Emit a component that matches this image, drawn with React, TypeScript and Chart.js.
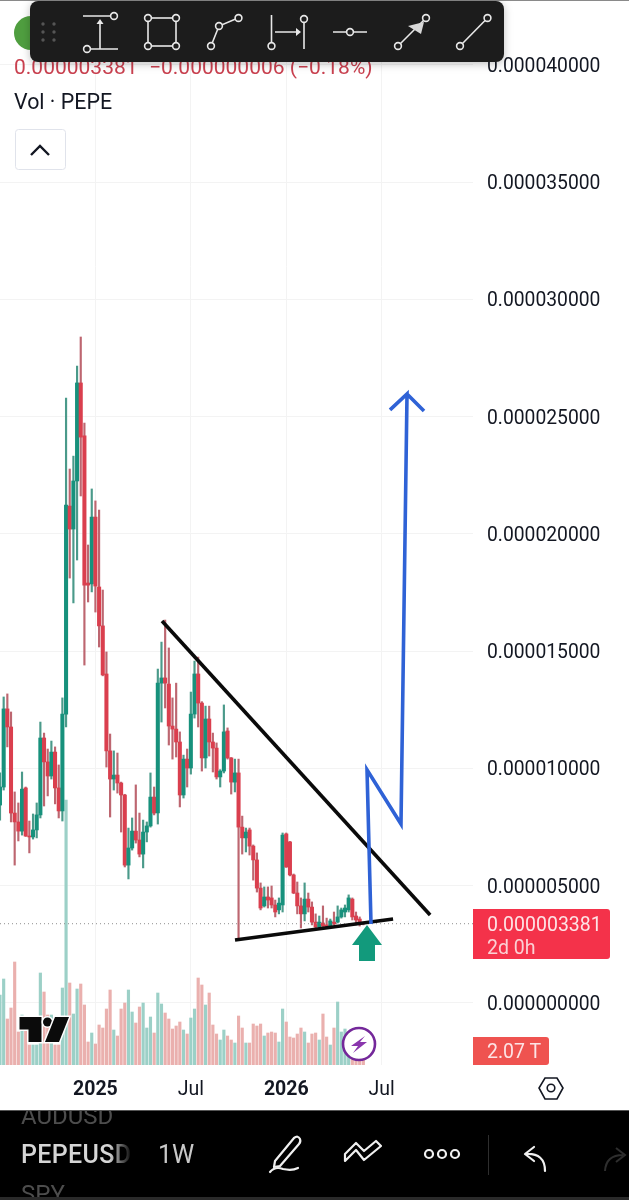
import React, { useEffect, useRef } from "react";
import { Chart, registerables } from "chart.js";

Chart.register(...registerables);

// Prices are in millionths (1e-6) of a USD; weekly candles, volumes in trillions.
const opens = [
  8.44, 9.21, 12.54, 11.77, 8.1, 7.72, 7.33, 9.17, 7.12, 7.08,
  7.38, 8.02, 11.3, 10.28, 9.68, 10.7, 9.17, 8.19, 12.32, 21.19,
  20.21, 22.26, 26.44, 24.18, 17.91, 17.87, 20.72, 17.74, 16.08, 14.03,
  10.75, 9.55, 9.72, 9.38, 8.87, 5.88, 6.61, 7.33, 6.95, 6.35,
  7.29, 7.55, 8.78, 8.1, 13.64, 13.86, 13.6, 11.81, 11.68, 11.13,
  8.87, 10.4, 10.02, 12.32, 14.03, 12.79, 10.45, 12.11, 11.13, 10.87,
  9.64, 9.89, 11.6, 10.45, 9.42, 9.81, 7.5, 7.04, 7.38, 6.69,
  6.1, 4.9, 4.14, 4.52, 4.48, 4.18, 3.97, 4.18, 7.21, 6.87,
  5.46, 4.69, 4.14, 3.8, 4.43, 4.09, 3.45, 3.24, 3.41, 3.33,
  3.28, 3.45, 3.45, 3.67, 3.88, 3.97, 4.43, 3.71, 3.58, 3.387,
];
const highs = [
  9.81, 13.05, 13.18, 12.41, 9.0, 8.53, 9.85, 9.21, 7.76, 8.06,
  8.53, 11.98, 11.51, 10.83, 11.17, 10.92, 10.15, 13.01, 25.8, 22.77,
  23.32, 27.16, 28.4, 24.73, 19.53, 21.92, 21.41, 21.02, 17.61, 14.97,
  11.47, 10.75, 10.66, 9.42, 8.9, 7.46, 7.89, 9.3, 8.1, 7.8,
  7.72, 9.81, 9.21, 14.24, 15.39, 16.33, 15.14, 13.01, 13.64, 11.56,
  10.57, 10.83, 13.26, 14.58, 14.75, 12.85, 12.66, 12.66, 11.51, 11.09,
  9.95, 12.71, 11.73, 10.47, 10.4, 10.4, 7.97, 7.46, 7.46, 6.74,
  6.4, 5.12, 4.95, 4.95, 4.99, 4.39, 4.48, 7.25, 7.25, 6.89,
  5.5, 5.16, 4.48, 5.12, 4.69, 4.31, 3.8, 3.71, 4.14, 3.62,
  3.58, 3.88, 4.14, 4.05, 4.18, 4.61, 4.48, 3.88, 3.67, 3.45,
];
const lows = [
  7.8, 9.08, 10.92, 7.72, 5.88, 6.91, 7.16, 7.1, 6.4, 6.99,
  7.04, 7.89, 8.4, 8.83, 9.55, 8.49, 7.89, 7.76, 11.77, 18.12,
  17.06, 18.89, 21.62, 14.41, 17.1, 17.53, 16.67, 15.18, 13.95, 10.06,
  7.93, 9.08, 8.95, 7.29, 5.8, 5.29, 6.52, 6.82, 6.23, 5.76,
  6.87, 7.5, 8.02, 7.63, 11.98, 12.58, 11.0, 10.4, 10.49, 8.36,
  8.74, 9.21, 9.76, 12.15, 11.77, 9.89, 10.02, 10.53, 9.85, 9.55,
  9.21, 9.81, 10.4, 8.91, 9.0, 2.77, 6.35, 6.44, 6.31, 5.24,
  4.73, 3.97, 4.09, 4.05, 4.05, 3.67, 3.8, 3.88, 5.78, 5.42,
  4.66, 3.8, 3.2, 3.5, 3.88, 3.33, 3.2, 3.2, 3.24, 3.2,
  3.24, 3.33, 3.41, 3.62, 3.67, 3.88, 3.54, 3.33, 3.28, 3.33,
];
const closes = [
  9.21, 12.54, 11.77, 8.1, 7.72, 7.33, 9.12, 7.12, 7.08, 7.38,
  8.02, 11.3, 10.28, 9.68, 10.7, 9.17, 8.19, 12.32, 21.23, 20.21,
  22.26, 26.44, 24.13, 17.82, 17.82, 20.72, 17.78, 16.08, 13.99, 10.75,
  9.55, 9.72, 9.38, 8.87, 5.88, 6.61, 7.33, 6.95, 6.35, 7.29,
  7.55, 8.78, 8.1, 13.64, 13.86, 13.64, 11.81, 11.68, 11.13, 8.87,
  10.4, 10.02, 12.32, 14.03, 12.79, 10.45, 12.11, 11.13, 10.87, 9.64,
  9.89, 11.56, 10.45, 9.42, 9.81, 7.5, 7.04, 7.29, 6.69, 6.1,
  4.9, 4.05, 4.52, 4.39, 4.18, 3.88, 4.26, 7.16, 5.8, 5.46,
  4.69, 4.14, 3.8, 4.43, 4.09, 3.45, 3.24, 3.45, 3.28, 3.24,
  3.5, 3.37, 3.67, 3.97, 4.05, 4.48, 3.67, 3.54, 3.41, 3.381,
];
const volumes = [
  7.0, 8.6, 4.6, 5.7, 10.3, 3.3, 5.0, 3.5, 2.0, 2.0,
  2.0, 9.2, 7.3, 5.0, 5.0, 2.0, 2.0, 7.7, 26.5, 8.2,
  5.1, 7.6, 8.1, 6.0, 2.3, 3.2, 2.1, 4.0, 3.7, 5.6,
  7.5, 3.5, 2.9, 5.6, 6.2, 7.5, 5.3, 4.2, 5.8, 6.2,
  3.7, 4.8, 3.2, 7.2, 6.1, 5.2, 4.6, 3.6, 3.9, 4.3,
  3.5, 3.1, 4.7, 5.6, 8.7, 8.0, 6.0, 7.2, 4.0, 3.1,
  2.5, 3.5, 2.9, 2.5, 2.2, 4.9, 3.7, 2.2, 2.2, 4.1,
  3.9, 4.1, 2.9, 3.2, 3.3, 3.2, 2.3, 5.6, 4.3, 2.8,
  2.7, 3.1, 3.7, 3.3, 2.2, 3.1, 3.2, 2.5, 5.1, 2.8,
  2.0, 3.7, 6.3, 3.3, 3.6, 3.0, 2.5, 2.0, 1.5, 2.07,
];

const priceTicks = [0, 5, 10, 15, 20, 25, 30, 35, 40];
const timeTickWeeks = [26, 52, 78, 104];
const timeTickLabels = ["2025", "Jul", "2026", "Jul"];
const boldTimeLabels = ["2025", "2026"];

const lastPrice = 3.381;
const resistanceX = [44.14, 117.2];
const resistanceY = [16.29, 3.75];
const supportX = [64.03, 107.1];
const supportY = [2.69, 3.58];
const projectionX = [101.09, 100, 109.26, 110.9, 106.27, 110.9, 115.53];
const projectionY = [3.37, 9.94, 7.63, 25.97, 25.29, 25.97, 25.24];

const TEAL = "#17917c";
const RED = "#da3f4e";
const TEAL_WICK = "#4a9a8a";
const RED_WICK = "#bd6670";
const TEAL_VOL = "#9cd0c7";
const RED_VOL = "#eab0ae";

const zip = (xs: number[], ys: number[]) => xs.map((x, i) => ({ x, y: ys[i] }));

function Overlay() {
  const ic = { fill: "none", stroke: "#e8e8e8", strokeWidth: 1.6 };
  const dot = (cx: number, cy: number, k: string) => (
    <circle key={k} cx={cx} cy={cy} r={3.4} fill="#1e1e1e" stroke="#e8e8e8" strokeWidth={1.6} />
  );
  return (
    <svg
      width={629}
      height={1200}
      style={{ position: "absolute", left: 0, top: 0, fontFamily: "Roboto" }}
    >
      <defs>
        <filter id="tb" x="-5%" y="-20%" width="110%" height="150%">
          <feDropShadow dx="0" dy="2" stdDeviation="4" floodColor="#000" floodOpacity="0.25" />
        </filter>
        <linearGradient id="fade" x1="0" x2="1" y1="0" y2="0">
          <stop offset="0.8" stopColor="#d6d6d6" />
          <stop offset="1" stopColor="#d6d6d6" stopOpacity="0.05" />
        </linearGradient>
      </defs>
      <rect x={0} y={0} width={629} height={1} fill="#8a8a8a" />

      {/* legend */}
      <circle cx={31} cy={33} r={17} fill="#4f9e3f" />
      <text x={14} y={74} fontSize={21} fill="#c9404f">
        0.000003381
      </text>
      <text x={149} y={74} fontSize={21} fill="#c9404f">
        −0.000000006 (−0.18%)
      </text>
      <text x={14} y={109} fontSize={21.4} fill="#131722">
        Vol · PEPE
      </text>
      <rect x={15.5} y={129.5} width={50} height={40} rx={3} fill="#fff" stroke="#e0e3eb" />
      <path d="M31 155 L40 146 L49 155" fill="none" stroke="#131722" strokeWidth={2.4} />

      {/* toolbar */}
      <rect x={30} y={1} width={474} height={61} rx={8} fill="#1e1e1e" filter="url(#tb)" />
      {[24, 32, 40].map((y) =>
        [43, 54].map((x) => <circle key={`${x}-${y}`} cx={x} cy={y} r={1.7} fill="#555" />)
      )}
      <g {...ic}>
        <path d="M83 16H110M90 49H118M100 49V23" />
        <path d="M100 19l-3.5 5h7z" fill="#e8e8e8" stroke="none" />
        <rect x={148} y={18} width={28} height={28} />
        <path d="M211 46L219 26L238 18" />
        <path d="M271.5 15V43M304 22V49M275 32H299" />
        <path d="M296 28l5 4-5 4z" fill="#e8e8e8" stroke="none" />
        <path d="M333 32H367" />
        <path d="M398 46L426 18" />
        <path d="M460 46L487.5 18" />
      </g>
      <path d="M424 22L421 34L408 26Z" fill="#d8d8d8" />
      {dot(114, 16, "a")}
      {dot(87, 49, "b")}
      {dot(148, 18, "c")}
      {dot(176, 18, "d")}
      {dot(148, 46, "e")}
      {dot(176, 46, "f")}
      {dot(211, 46, "g")}
      {dot(219, 26, "h")}
      {dot(238.5, 18, "i")}
      {dot(271.5, 46, "j")}
      {dot(304, 19, "k")}
      {dot(350, 32, "l")}
      {dot(398, 46, "m")}
      {dot(426, 18, "n")}
      {dot(460, 46, "o")}
      {dot(487.5, 18, "p")}

      {/* green arrow */}
      <path d="M367 925L382 945H375V961H359V945H352Z" fill="#129a7c" />

      {/* price labels */}
      <path d="M473 909H607a3 3 0 0 1 3 3V956a3 3 0 0 1-3 3H473Z" fill="#f4324a" />
      <text x={487} y={931} fontSize={19.5} fill="#fde3e5">
        0.000003381
      </text>
      <text x={487} y={954} fontSize={19.5} fill="#fbd0d4">
        2d 0h
      </text>
      <path d="M473 1037H546a3 3 0 0 1 3 3V1062a3 3 0 0 1-3 3H473Z" fill="#ef5350" />
      <text x={487} y={1058} fontSize={19.5} fill="#fde3e5">
        2.07 T
      </text>

      {/* TradingView mark */}
      <g stroke="#fff" strokeWidth={3} paintOrder="stroke" fill="#0b0b0b">
        <path d="M19.5 1017H41.5V1042H28.5V1029.5H19.5Z" />
        <circle cx={47.5} cy={1022} r={4.5} />
        <path d="M55 1017H69L59 1042H45Z" />
      </g>

      {/* bolt badge */}
      <circle cx={359} cy={1044} r={16} fill="#fff" stroke="#74289a" strokeWidth={2.6} />
      <path d="M365 1036L351 1046H358L353 1053L367 1042H360Z" fill="#8a36ad" />

      {/* settings hex */}
      <path d="M545 1078H557L563 1088L557 1099H545L539 1088Z" fill="none" stroke="#131722" strokeWidth={1.6} />
      <circle cx={551} cy={1088} r={3.8} fill="none" stroke="#131722" strokeWidth={1.6} />

      {/* bottom bar */}
      <rect x={0} y={1110} width={629} height={90} fill="#000" />
      <rect x={0} y={1110} width={629} height={1} fill="#555" />
      <clipPath id="bar">
        <rect x={0} y={1111} width={629} height={86} />
      </clipPath>
      <g clipPath="url(#bar)">
        <text x={21} y={1124} fontSize={24} fill="#4d4d4d">
          AUDUSD
        </text>
        <text x={21} y={1163} fontSize={25} fontWeight={500} fill="url(#fade)" textLength={110}>
          PEPEUSD
        </text>
        <text x={158} y={1163} fontSize={25} fill="#c8c8c8">
          1W
        </text>
        <text x={21} y={1202} fontSize={24} fill="#4d4d4d">
          SPY
        </text>
      </g>
      <rect x={0} y={1197} width={629} height={3} fill="#2a2a2a" />
      <g fill="none" stroke="#f0f0f0" strokeWidth={2.2} strokeLinejoin="round" strokeLinecap="round">
        <path d="M275 1161L294 1138Q298 1135 300 1139Q301 1142 299 1144L280 1166L274 1167Z" />
        <path d="M270 1172Q275 1166 283 1169Q292 1171 298 1168" />
        <path d="M345 1161L356 1150L364 1160L381 1146L376 1141L364 1151L356 1143L345 1154Z" />
        <circle cx={429} cy={1154} r={4} />
        <circle cx={442} cy={1154} r={4} />
        <circle cx={455} cy={1154} r={4} />
        <path d="M534 1147L525 1154L534 1161M526 1154Q545 1153 545 1171" />
      </g>
      <path d="M605 1171Q606 1155 623 1155M616 1148L625 1155L616 1162" fill="none" stroke="#2e2e2e" strokeWidth={2} />
      <rect x={488} y={1135} width={1} height={40} fill="#2e2e2e" />
    </svg>
  );
}

export default function App() {
  const ref = useRef<HTMLCanvasElement>(null);
  useEffect(() => {
    document.body.style.margin = "0";
    document.body.style.background = "#fff";
    const idx = opens.map((_, i) => i);
    const up = (i: number) => closes[i] >= opens[i];
    const chart = new Chart(ref.current as HTMLCanvasElement, {
      type: "bar",
      data: {
        datasets: [
          {
            type: "line",
            data: zip(supportX, supportY),
            borderColor: "#0a0a0a",
            borderWidth: 3.6,
            pointRadius: 0,
            yAxisID: "y",
            order: 1,
          },
          {
            type: "line",
            data: zip(resistanceX, resistanceY),
            borderColor: "#0a0a0a",
            borderWidth: 3.6,
            pointRadius: 0,
            yAxisID: "y",
            order: 1,
          },
          {
            type: "line",
            data: zip(projectionX, projectionY),
            borderColor: "#2f62d6",
            borderWidth: 3.6,
            pointRadius: 0,
            yAxisID: "y",
            order: 0,
          },
          {
            type: "line",
            data: [
              { x: 0, y: lastPrice },
              { x: 129, y: lastPrice },
            ],
            borderColor: "#8f8f8f",
            borderWidth: 1,
            borderDash: [1, 3],
            pointRadius: 0,
            yAxisID: "y",
            order: 2,
          },
          {
            data: idx.map((i) => ({ x: i, y: [opens[i], closes[i]] })),
            backgroundColor: idx.map((i) => (up(i) ? TEAL : RED)),
            barThickness: 3.4,
            minBarLength: 1,
            grouped: false,
            yAxisID: "y",
            order: 3,
          },
          {
            data: idx.map((i) => ({ x: i, y: [lows[i], highs[i]] })),
            backgroundColor: idx.map((i) => (up(i) ? TEAL_WICK : RED_WICK)),
            barThickness: 1.5,
            grouped: false,
            yAxisID: "y",
            order: 4,
          },
          {
            data: idx.map((i) => ({ x: i, y: volumes[i] })),
            backgroundColor: idx.map((i) => (up(i) ? TEAL_VOL : RED_VOL)),
            barThickness: 2.5,
            grouped: false,
            yAxisID: "vol",
            order: 5,
          },
        ],
      } as any,
      options: {
        animation: false,
        responsive: false,
        events: [],
        layout: { padding: 0 },
        plugins: { legend: { display: false }, tooltip: { enabled: false } },
        scales: {
          x: {
            type: "linear",
            offset: false,
            min: 0,
            max: 128.88,
            border: { display: false },
            grid: { color: "#f3f3f3", offset: false, drawTicks: false },
            afterFit: (s: any) => {
              s.height = 45;
              s.paddingLeft = 0;
              s.paddingRight = 0;
            },
            afterBuildTicks: (s: any) => {
              s.ticks = timeTickWeeks.map((value) => ({ value }));
            },
            ticks: {
              autoSkip: false,
              maxRotation: 0,
              padding: 13,
              color: "#131722",
              font: (c: any) => ({
                family: "Roboto",
                size: 19.5,
                weight: boldTimeLabels.includes(timeTickLabels[timeTickWeeks.indexOf(c.tick?.value)]) ? "bold" : "normal",
              }),
              callback: (v: any) => timeTickLabels[timeTickWeeks.indexOf(Number(v))],
            },
          },
          y: {
            position: "right",
            min: -2.644,
            max: 42.77,
            border: { display: false },
            grid: { color: "#f3f3f3", drawTicks: false },
            afterFit: (s: any) => {
              s.width = 156;
              s.paddingTop = 0;
              s.paddingBottom = 0;
            },
            afterBuildTicks: (s: any) => {
              s.ticks = priceTicks.map((value) => ({ value }));
            },
            ticks: {
              padding: 14,
              color: "#131722",
              font: { family: "Roboto", size: 19.3, lineHeight: "4px" },
              callback: (v: any) => ["", (Number(v) / 1e6).toFixed(9)],
            },
          },
          vol: { display: false, min: 0, max: 106.5 },
        },
      } as any,
    });
    return () => chart.destroy();
  }, []);
  return (
    <div style={{ position: "relative", width: 629, height: 1200, overflow: "hidden", background: "#fff" }}>
      <canvas ref={ref} width={629} height={1110} style={{ display: "block" }} />
      <Overlay />
    </div>
  );
}
